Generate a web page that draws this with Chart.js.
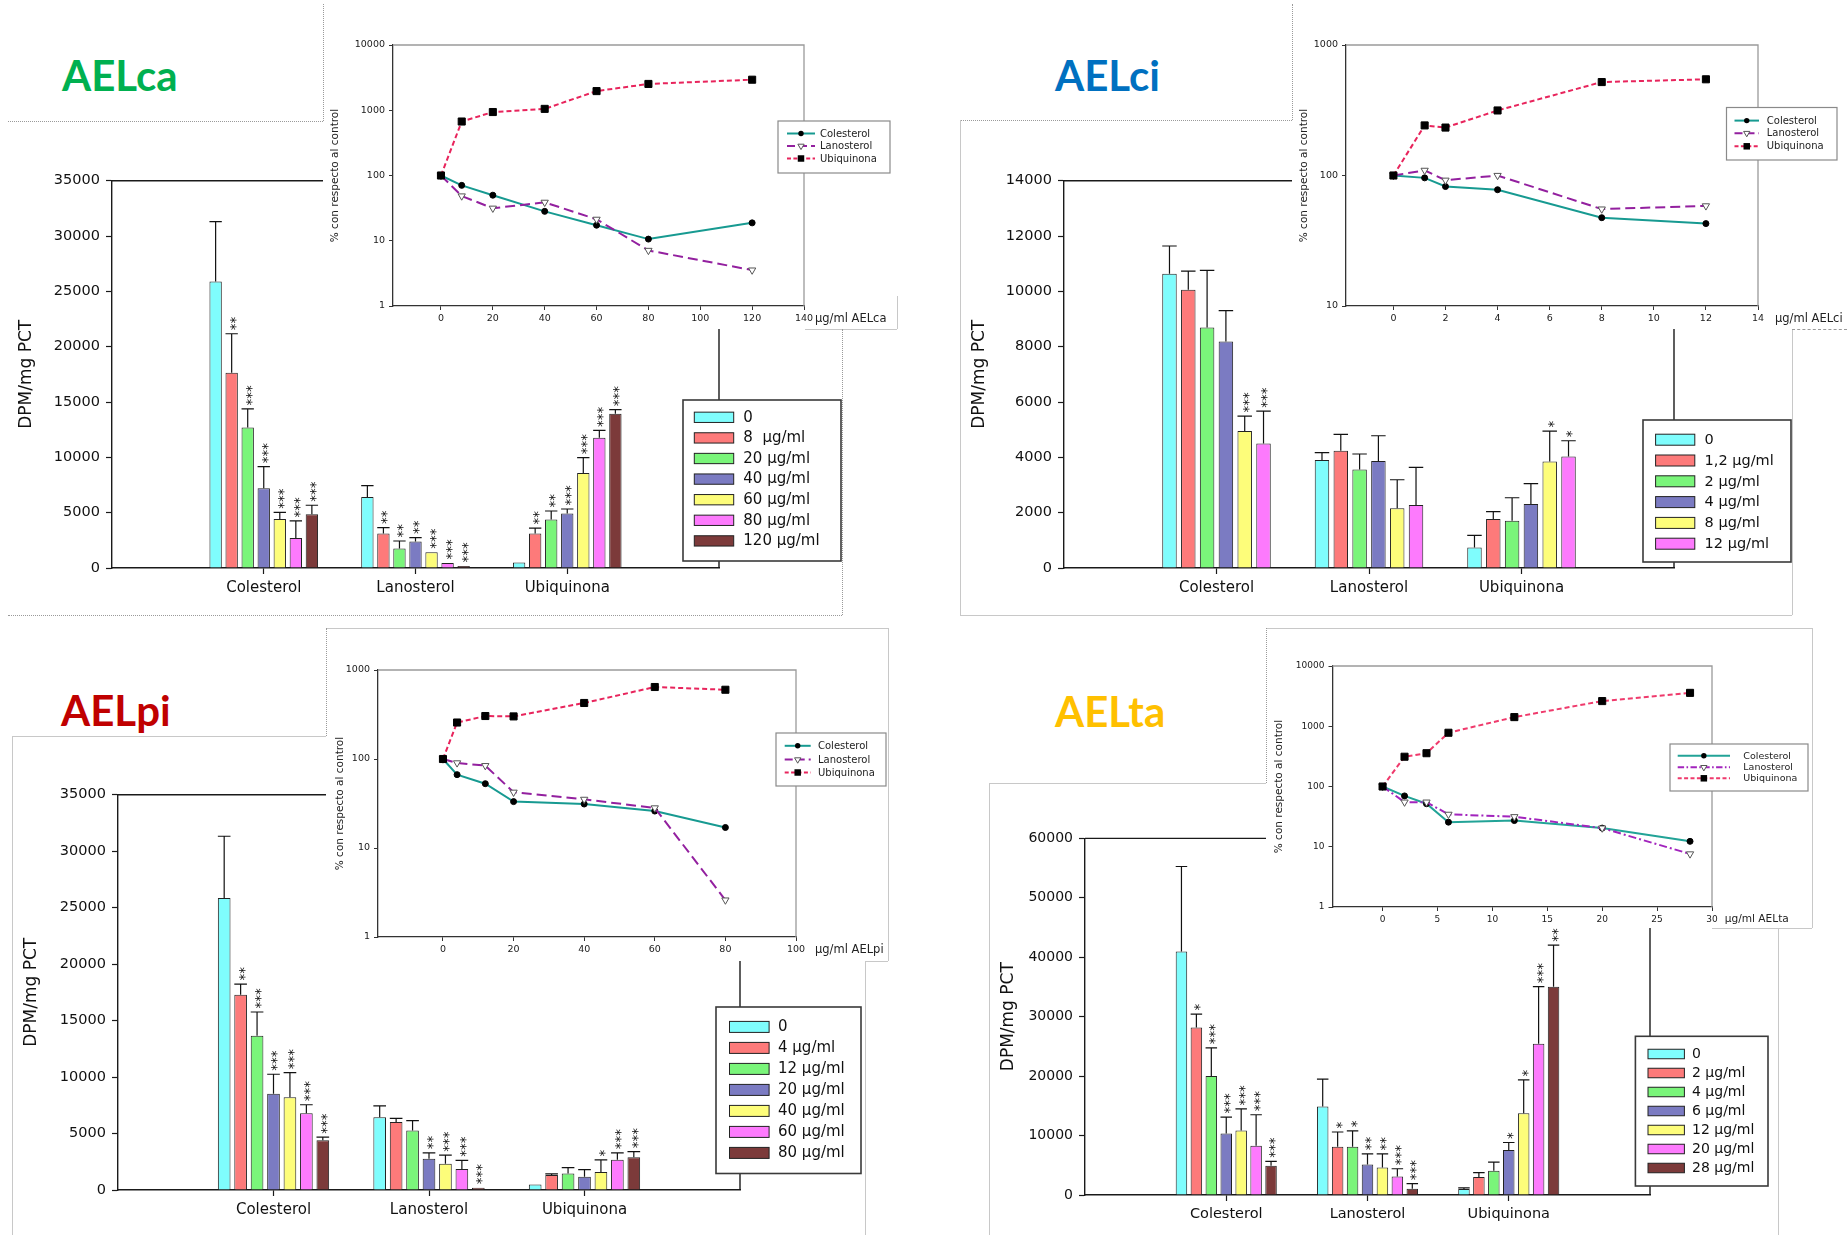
<!DOCTYPE html>
<html lang="es">
<head>
<meta charset="utf-8">
<title>Síntesis de colesterol, lanosterol y ubiquinona</title>
<script src="https://cdn.jsdelivr.net/npm/chart.js@4.4.1/dist/chart.umd.min.js"></script>
<style>
  html, body { margin: 0; padding: 0; background: #fff; }
  #page { position: relative; width: 1847px; height: 1235px; overflow: hidden; background: #fff; }
  #page canvas { position: absolute; }
  .panel-title { position: absolute; font-family: Lato, 'DejaVu Sans', sans-serif; font-weight: 700; font-size: 42px; line-height: 42px; white-space: nowrap; z-index: 6; }
  .inset-bg { position: absolute; background: #fff; z-index: 2; }
  .rule { position: absolute; z-index: 5; }
</style>
</head>
<body>
<div id="page"></div>
<script>
const FONT = "'DejaVu Sans', 'Liberation Sans', Arial, sans-serif";

// ---------- shared labels ----------
const categories = ['Colesterol', 'Lanosterol', 'Ubiquinona'];
const lineSeries = ['Colesterol', 'Lanosterol', 'Ubiquinona'];
const yAxisTitle = 'DPM/mg PCT';
const insetAxisTitle = '% con respecto al control';

// ---------- AELca ----------
const caDoses = ['0', '8  µg/ml', '20 µg/ml', '40 µg/ml', '60 µg/ml', '80 µg/ml', '120 µg/ml'];
const caColesterol    = [25900, 17650, 12700, 7200, 4420, 2710, 4850];
const caColesterolSD  = [5400, 3520, 1680, 1960, 610, 1540, 820];
const caColesterolSig = ['', '**', '***', '***', '***', '***', '***'];
const caLanosterol    = [6420, 3120, 1760, 2390, 1430, 460, 190];
const caLanosterolSD  = [1020, 530, 680, 360, 0, 0, 0];
const caLanosterolSig = ['', '**', '**', '**', '***', '***', '***'];
const caUbiquinona    = [500, 3110, 4380, 4920, 8580, 11770, 13950];
const caUbiquinonaSD  = [0, 500, 770, 410, 1390, 660, 360];
const caUbiquinonaSig = ['', '**', '**', '***', '***', '***', '***'];
const caYTicks = [0, 5000, 10000, 15000, 20000, 25000, 30000, 35000];
const caConc = [0, 8, 20, 40, 60, 80, 120];
const caPctColesterol = [100, 70.6, 49.9, 28.2, 17.3, 10.6, 18.8];
const caPctLanosterol = [100, 48.5, 31.5, 38.8, 21.3, 7.1, 3.55];
const caPctUbiquinona = [100, 672, 939, 1050, 1966, 2531, 2939];
const caConcTicks = [0, 20, 40, 60, 80, 100, 120, 140];
const caPctTicks = [1, 10, 100, 1000, 10000];

// ---------- AELci ----------
const ciDoses = ['0', '1,2 µg/ml', '2 µg/ml', '4 µg/ml', '8 µg/ml', '12 µg/ml'];
const ciColesterol    = [10640, 10060, 8690, 8190, 4950, 4500];
const ciColesterolSD  = [1000, 670, 2070, 1110, 540, 1170];
const ciColesterolSig = ['', '', '', '', '***', '***'];
const ciLanosterol    = [3900, 4240, 3560, 3870, 2160, 2280];
const ciLanosterolSD  = [270, 590, 560, 910, 1030, 1360];
const ciLanosterolSig = ['', '', '', '', '', ''];
const ciUbiquinona    = [740, 1770, 1710, 2310, 3850, 4030];
const ciUbiquinonaSD  = [440, 270, 830, 740, 1100, 570];
const ciUbiquinonaSig = ['', '', '', '', '*', '*'];
const ciYTicks = [0, 2000, 4000, 6000, 8000, 10000, 12000, 14000];
const ciConc = [0, 1.2, 2, 4, 8, 12];
const ciPctColesterol = [100, 95.9, 82.3, 77.8, 47.5, 42.8];
const ciPctLanosterol = [100, 109.5, 92, 100, 55.3, 58.5];
const ciPctUbiquinona = [100, 242, 233, 315, 520, 546];
const ciConcTicks = [0, 2, 4, 6, 8, 10, 12, 14];
const ciPctTicks = [10, 100, 1000];

// ---------- AELpi ----------
const piDoses = ['0', '4 µg/ml', '12 µg/ml', '20 µg/ml', '40 µg/ml', '60 µg/ml', '80 µg/ml'];
const piColesterol    = [25850, 17290, 13650, 8520, 8210, 6790, 4400];
const piColesterolSD  = [5470, 940, 2110, 1730, 2180, 760, 280];
const piColesterolSig = ['', '**', '***', '***', '***', '***', '***'];
const piLanosterol    = [6450, 6030, 5270, 2770, 2320, 1870, 210];
const piLanosterolSD  = [1000, 310, 870, 520, 760, 760, 0];
const piLanosterolSig = ['', '', '', '**', '***', '***', '***'];
const piUbiquinona    = [490, 1320, 1460, 1180, 1590, 2670, 2910];
const piUbiquinonaSD  = [0, 100, 520, 620, 1070, 620, 480];
const piUbiquinonaSig = ['', '', '', '', '*', '***', '***'];
const piYTicks = [0, 5000, 10000, 15000, 20000, 25000, 30000, 35000];
const piConc = [0, 4, 12, 20, 40, 60, 80];
const piPctColesterol = [100, 66.7, 52.8, 33.2, 31.2, 26.0, 17.0];
const piPctLanosterol = [100, 90.4, 84.2, 42.3, 35.2, 28.2, 2.6];
const piPctUbiquinona = [100, 257, 304, 301, 426, 644, 600];
const piConcTicks = [0, 20, 40, 60, 80, 100];
const piPctTicks = [1, 10, 100, 1000];

// ---------- AELta ----------
const taDoses = ['0', '2 µg/ml', '4 µg/ml', '6 µg/ml', '12 µg/ml', '20 µg/ml', '28 µg/ml'];
const taColesterol    = [40970, 28200, 20030, 10340, 10870, 8300, 4940];
const taColesterolSD  = [14300, 2240, 4740, 2770, 3620, 5200, 720];
const taColesterolSig = ['', '*', '***', '***', '***', '***', '***'];
const taLanosterol    = [14890, 8100, 8100, 5140, 4610, 3100, 1050];
const taLanosterolSD  = [4610, 2500, 2700, 1780, 2300, 1320, 860];
const taLanosterolSig = ['', '*', '*', '**', '**', '***', '***'];
const taUbiquinona    = [990, 3030, 4080, 7580, 13770, 25430, 35050];
const taUbiquinonaSD  = [200, 720, 1450, 1250, 5600, 9620, 6980];
const taUbiquinonaSig = ['', '', '', '*', '*', '***', '***'];
const taYTicks = [0, 10000, 20000, 30000, 40000, 50000, 60000];
const taConc = [0, 2, 4, 6, 12, 20, 28];
const taPctColesterol = [100, 69.8, 51.8, 25.6, 27.2, 20.4, 12.3];
const taPctLanosterol = [100, 55, 55, 34.5, 31.5, 20.4, 7.6];
const taPctUbiquinona = [100, 312, 357, 780, 1418, 2617, 3584];
const taConcTicks = [0, 5, 10, 15, 20, 25, 30];
const taPctTicks = [1, 10, 100, 1000, 10000];

// ---------- styles ----------
const doseColors = ['#7ffdfd', '#fd7a7a', '#7af57a', '#7b7bc2', '#fdfd7a', '#fd7afd', '#7c3a3a'];
const lineStyles = [
  { color: '#179a91', dash: [], point: 'circle' },
  { color: '#93209f', dash: [10, 5], point: 'triangle' },
  { color: '#e8245c', dash: [5, 3], point: 'square' }
];

const page = document.getElementById('page');

function makeCanvas(left, top, w, h, z) {
  const c = document.createElement('canvas');
  w = Math.round(w); h = Math.round(h);
  c.width = w; c.height = h;
  Object.assign(c.style, { left: left + 'px', top: top + 'px', width: w + 'px', height: h + 'px', zIndex: z });
  page.appendChild(c);
  return c;
}

function rule(x1, y1, x2, y2, style, color) {
  const d = document.createElement('div');
  d.className = 'rule';
  if (y1 === y2) {
    Object.assign(d.style, { left: x1 + 'px', top: y1 + 'px', width: (x2 - x1) + 'px', height: '0px', borderTop: `1px ${style} ${color}` });
  } else {
    Object.assign(d.style, { left: x1 + 'px', top: y1 + 'px', width: '0px', height: (y2 - y1) + 'px', borderLeft: `1px ${style} ${color}` });
  }
  page.appendChild(d);
}

function whiteBox(x1, y1, x2, y2) {
  const d = document.createElement('div');
  d.className = 'inset-bg';
  Object.assign(d.style, { left: x1 + 'px', top: y1 + 'px', width: (x2 - x1) + 'px', height: (y2 - y1) + 'px' });
  page.appendChild(d);
}

function panelTitle(text, color, x, baseline) {
  const d = document.createElement('div');
  d.className = 'panel-title';
  d.textContent = text;
  // Lato: baseline sits 0.887em below the top of a 1em line box
  Object.assign(d.style, { left: x + 'px', top: (baseline - 0.887 * 42) + 'px', color });
  page.appendChild(d);
}

function drawMarker(ctx, kind, x, y, scale) {
  ctx.save();
  if (kind === 'circle') {
    ctx.fillStyle = '#000';
    ctx.beginPath(); ctx.arc(x, y, 3 * scale, 0, Math.PI * 2); ctx.fill();
  } else if (kind === 'triangle') {
    const r = 4 * scale;
    ctx.fillStyle = '#fff'; ctx.strokeStyle = '#555'; ctx.lineWidth = 1;
    ctx.beginPath();
    ctx.moveTo(x, y + r); ctx.lineTo(x - r * 0.87, y - r * 0.5); ctx.lineTo(x + r * 0.87, y - r * 0.5);
    ctx.closePath(); ctx.fill(); ctx.stroke();
  } else {
    const s = 3.6 * scale;
    ctx.fillStyle = '#000';
    ctx.fillRect(x - s, y - s, 2 * s, 2 * s);
  }
  ctx.restore();
}

// ---------- bar chart with error bars, significance marks and boxed legend ----------
function buildBarChart(p) {
  const [L, T, R, B] = p.plot;
  const left = Math.round(L - p.yW);
  const pt = 14, xH = 44;
  const top = T - pt;
  const yW = L - left;
  const pr = Math.ceil(p.legend.box[2] - R + 6);
  const w = R - left + pr, h = B - top + xH;
  const cv = makeCanvas(left, top, w, h, 1);
  const labels = ['', ...categories, ''];

  const datasets = p.doses.map((dose, i) => ({
    label: dose,
    data: [null, ...p.means.map(a => a[i]), null],
    errors: [0, ...p.sds.map(a => a[i]), 0],
    stars: ['', ...p.sigs.map(a => a[i]), ''],
    backgroundColor: doseColors[i],
    borderColor: '#222',
    borderWidth: 1,
    categoryPercentage: 0.74,
    barPercentage: 0.77
  }));

  const frame = {
    id: 'frame',
    beforeDatasetsDraw(chart) {
      const { ctx, chartArea: a } = chart;
      ctx.save();
      ctx.strokeStyle = '#1a1a1a'; ctx.lineWidth = 1.4;
      ctx.beginPath();
      ctx.moveTo(a.left, a.top); ctx.lineTo(a.right, a.top); ctx.lineTo(a.right, a.bottom);
      ctx.stroke();
      ctx.restore();
    }
  };

  const errorBars = {
    id: 'errorBars',
    afterDatasetsDraw(chart) {
      const { ctx } = chart;
      const ys = chart.scales.y;
      const fs = 13.5;
      chart.data.datasets.forEach((ds, i) => {
        chart.getDatasetMeta(i).data.forEach((bar, j) => {
          const v = ds.data[j];
          if (v == null) return;
          const e = ds.errors[j] || 0;
          const yTop = ys.getPixelForValue(v + e);
          ctx.save();
          ctx.strokeStyle = '#111'; ctx.lineWidth = 1.2;
          if (e > 0) {
            ctx.beginPath();
            ctx.moveTo(bar.x, bar.y); ctx.lineTo(bar.x, yTop);
            ctx.moveTo(bar.x - bar.width / 2, yTop); ctx.lineTo(bar.x + bar.width / 2, yTop);
            ctx.stroke();
          }
          const s = ds.stars[j];
          if (s) {
            ctx.translate(bar.x, yTop - 3.5);
            ctx.rotate(-Math.PI / 2);
            ctx.font = `${fs}px ${FONT}`;
            ctx.fillStyle = '#111';
            ctx.textAlign = 'left'; ctx.textBaseline = 'alphabetic';
            ctx.fillText(s, 0, 0.59 * fs);
          }
          ctx.restore();
        });
      });
    }
  };

  const lg = p.legend;
  const boxLegend = {
    id: 'boxLegend',
    afterDraw(chart) {
      const { ctx } = chart;
      const ox = left, oy = top;
      const [bx1, by1, bx2, by2] = lg.box;
      ctx.save();
      ctx.fillStyle = '#fff';
      ctx.fillRect(bx1 - ox, by1 - oy, bx2 - bx1, by2 - by1);
      ctx.strokeStyle = '#3a3a3a'; ctx.lineWidth = 1.6;
      ctx.strokeRect(bx1 - ox, by1 - oy, bx2 - bx1, by2 - by1);
      ctx.font = `${lg.fs}px ${FONT}`;
      ctx.textBaseline = 'middle'; ctx.textAlign = 'left';
      chart.data.datasets.forEach((ds, i) => {
        const cy = lg.first + i * lg.pitch - oy;
        ctx.fillStyle = ds.backgroundColor;
        ctx.fillRect(lg.sx - ox, cy - lg.sh / 2, lg.sw, lg.sh);
        ctx.strokeStyle = '#222'; ctx.lineWidth = 1;
        ctx.strokeRect(lg.sx - ox, cy - lg.sh / 2, lg.sw, lg.sh);
        ctx.fillStyle = '#111';
        ctx.fillText(ds.label, lg.tx - ox, cy + 0.5);
      });
      ctx.restore();
    }
  };

  new Chart(cv, {
    type: 'bar',
    data: { labels, datasets },
    options: {
      responsive: false, animation: false, devicePixelRatio: 1, events: [],
      layout: { padding: { left: 0, top: pt, right: pr, bottom: 0 } },
      plugins: { legend: { display: false }, tooltip: { enabled: false } },
      scales: {
        x: {
          type: 'category', offset: false,
          grid: {
            offset: false, drawOnChartArea: false, drawTicks: true, tickLength: 6, tickWidth: 1.2,
            tickColor: c => (c.tick && c.tick.label) ? '#1a1a1a' : 'rgba(0,0,0,0)'
          },
          border: { display: true, color: '#1a1a1a', width: 1.4 },
          ticks: { font: { family: FONT, size: p.catSize }, color: '#111', padding: 5, maxRotation: 0, autoSkip: false },
          afterFit: s => { s.height = xH; }
        },
        y: {
          min: 0, max: p.yTicks[p.yTicks.length - 1],
          afterBuildTicks: s => { s.ticks = p.yTicks.map(v => ({ value: v })); },
          afterFit: s => { s.width = yW; },
          grid: { drawOnChartArea: false, tickLength: 6, tickWidth: 1.2, tickColor: '#1a1a1a' },
          border: { color: '#1a1a1a', width: 1.4 },
          ticks: { font: { family: FONT, size: p.tickSize }, color: '#111', padding: 6, callback: v => String(v) },
          title: { display: true, text: yAxisTitle, font: { family: FONT, size: 17 }, color: '#111', padding: 0 }
        }
      }
    },
    plugins: [frame, errorBars, boxLegend]
  });
}

// ---------- log-scale inset with the % of control ----------
function buildInset(p) {
  const [L, T, R, B] = p.plot;
  const left = Math.round(L - p.yW);
  const pt = 10, xH = 26;
  const top = T - pt;
  const yW = L - left;
  const w = R - left + p.pr, h = B - top + xH;
  const cv = makeCanvas(left, top, w, h, 3);
  const styles = p.styles || lineStyles;
  const pointStyle = { circle: 'circle', triangle: 'triangle', square: 'rect' };
  const order = [2, 1, 0];

  const datasets = lineSeries.map((name, k) => ({
    label: name,
    data: p.conc.map((x, i) => ({ x, y: p.pct[k][i] })),
    borderColor: styles[k].color,
    borderWidth: 2,
    borderDash: styles[k].dash,
    pointStyle: pointStyle[styles[k].point],
    pointRotation: styles[k].point === 'triangle' ? 180 : 0,
    pointRadius: styles[k].point === 'circle' ? 3 : (styles[k].point === 'triangle' ? 4.2 : 5),
    pointBackgroundColor: styles[k].point === 'triangle' ? '#fff' : '#000',
    pointBorderColor: styles[k].point === 'triangle' ? '#555' : '#000',
    pointBorderWidth: 1,
    tension: 0,
    order: order[k]
  }));

  const frame = {
    id: 'insetFrame',
    beforeDatasetsDraw(chart) {
      const { ctx, chartArea: a } = chart;
      ctx.save();
      ctx.strokeStyle = '#9a9a9a'; ctx.lineWidth = 1.3;
      ctx.beginPath();
      ctx.moveTo(a.left, a.top); ctx.lineTo(a.right, a.top); ctx.lineTo(a.right, a.bottom);
      ctx.stroke();
      ctx.restore();
    }
  };

  const lg = p.legend;
  const legendAndUnit = {
    id: 'legendAndUnit',
    afterDraw(chart) {
      const { ctx, chartArea: a } = chart;
      ctx.save();
      // unit label after the last concentration tick
      ctx.font = `${p.unitSize}px ${FONT}`;
      ctx.fillStyle = '#222';
      ctx.textAlign = 'left'; ctx.textBaseline = 'middle';
      ctx.fillText(p.unit, a.right + p.unitGap, a.bottom + 7 + p.tickSize * 0.6);
      // legend box
      const [bx1, by1, bx2, by2] = lg.box;
      ctx.fillStyle = '#fff';
      ctx.fillRect(bx1 - left, by1 - top, bx2 - bx1, by2 - by1);
      ctx.strokeStyle = '#8a8a8a'; ctx.lineWidth = 1.2;
      ctx.strokeRect(bx1 - left, by1 - top, bx2 - bx1, by2 - by1);
      ctx.font = `${lg.fs}px ${FONT}`;
      lineSeries.forEach((name, k) => {
        const cy = lg.rows[k] - top;
        ctx.strokeStyle = styles[k].color; ctx.lineWidth = 2;
        ctx.setLineDash(styles[k].dash.map(d => d * 0.8));
        ctx.beginPath(); ctx.moveTo(lg.line[0] - left, cy); ctx.lineTo(lg.line[1] - left, cy); ctx.stroke();
        ctx.setLineDash([]);
        drawMarker(ctx, styles[k].point, (lg.line[0] + lg.line[1]) / 2 - left, cy, 0.9);
        ctx.fillStyle = '#222';
        ctx.fillText(name, lg.tx - left, cy + 0.5);
      });
      ctx.restore();
    }
  };

  new Chart(cv, {
    type: 'line',
    data: { datasets },
    options: {
      responsive: false, animation: false, devicePixelRatio: 1, events: [],
      layout: { padding: { left: 0, top: pt, right: p.pr, bottom: 0 } },
      plugins: { legend: { display: false }, tooltip: { enabled: false } },
      scales: {
        x: {
          type: 'linear', min: p.xMin, max: p.xMax,
          afterBuildTicks: s => { s.ticks = p.xTicks.map(v => ({ value: v })); },
          afterFit: s => { s.height = xH; },
          grid: { drawOnChartArea: false, tickLength: 4, tickWidth: 1, tickColor: '#333' },
          border: { color: '#333', width: 1.3 },
          ticks: { font: { family: FONT, size: p.tickSize }, color: '#1a1a1a', padding: 3, maxRotation: 0, autoSkip: false, callback: v => String(v) }
        },
        y: {
          type: 'logarithmic', min: p.yTicks[0], max: p.yTicks[p.yTicks.length - 1],
          afterBuildTicks: s => { s.ticks = p.yTicks.map(v => ({ value: v })); },
          afterFit: s => { s.width = yW; },
          grid: { drawOnChartArea: false, tickLength: 4, tickWidth: 1, tickColor: '#333' },
          border: { color: '#333', width: 1.3 },
          ticks: { font: { family: FONT, size: p.tickSize }, color: '#1a1a1a', padding: 4, autoSkip: false, callback: v => String(v) },
          title: { display: true, text: insetAxisTitle, font: { family: FONT, size: 10.5 }, color: '#222', padding: 0 }
        }
      }
    },
    plugins: [frame, legendAndUnit]
  });
}

// ================= AELca =================
panelTitle('AELca', '#00b050', 62, 91);
buildBarChart({
  plot: [112, 180, 719, 568], yW: 96, yTicks: caYTicks, tickSize: 14.5, catSize: 15,
  doses: caDoses,
  means: [caColesterol, caLanosterol, caUbiquinona],
  sds: [caColesterolSD, caLanosterolSD, caUbiquinonaSD],
  sigs: [caColesterolSig, caLanosterolSig, caUbiquinonaSig],
  legend: { box: [683, 400, 841, 561], first: 417.3, pitch: 20.6, sx: 694.3, sw: 39.4, sh: 10.3, tx: 743.3, fs: 15 }
});
whiteBox(323, 0, 897, 329);
buildInset({
  plot: [393, 45, 804, 306], yW: 64, pr: 93,
  xMin: -18.5, xMax: 140, xTicks: caConcTicks, yTicks: caPctTicks,
  conc: caConc, pct: [caPctColesterol, caPctLanosterol, caPctUbiquinona],
  tickSize: 9.5, unit: 'µg/ml AELca', unitSize: 11.5, unitGap: 11,
  legend: { box: [778, 121, 890, 173], rows: [133.5, 146, 158.5], line: [787, 815], tx: 820, fs: 10 }
});
rule(323, 4, 323, 121, 'dotted', '#9a9a9a');
rule(8, 121, 323, 121, 'dotted', '#9a9a9a');
rule(805, 329, 897, 329, 'solid', '#c8c8c8');
rule(897, 296, 897, 329, 'solid', '#c8c8c8');
rule(8, 615, 842, 615, 'dotted', '#9a9a9a');
rule(842, 329, 842, 615, 'dotted', '#9a9a9a');

// ================= AELci =================
panelTitle('AELci', '#0070c0', 1055, 91);
buildBarChart({
  plot: [1064, 180, 1674, 568], yW: 95, yTicks: ciYTicks, tickSize: 14.5, catSize: 15,
  doses: ciDoses,
  means: [ciColesterol, ciLanosterol, ciUbiquinona],
  sds: [ciColesterolSD, ciLanosterolSD, ciUbiquinonaSD],
  sigs: [ciColesterolSig, ciLanosterolSig, ciUbiquinonaSig],
  legend: { box: [1643, 420, 1791, 562], first: 439.7, pitch: 20.8, sx: 1655.6, sw: 39.2, sh: 11, tx: 1704.6, fs: 14.5 }
});
whiteBox(1292, 0, 1847, 329);
buildInset({
  plot: [1346, 45, 1758, 306], yW: 47.6, pr: 89,
  xMin: -1.82, xMax: 14, xTicks: ciConcTicks, yTicks: ciPctTicks,
  conc: ciConc, pct: [ciPctColesterol, ciPctLanosterol, ciPctUbiquinona],
  tickSize: 9.5, unit: 'µg/ml AELci', unitSize: 11.5, unitGap: 17,
  legend: { box: [1726.5, 107.5, 1837, 160], rows: [120.6, 133.2, 146.3], line: [1734.5, 1759], tx: 1766.8, fs: 10 }
});
rule(1292, 4, 1292, 120, 'dotted', '#9a9a9a');
rule(960, 120, 1292, 120, 'dotted', '#9a9a9a');
rule(960, 120, 960, 615, 'solid', '#c8c8c8');
rule(960, 615, 1792, 615, 'solid', '#c8c8c8');
rule(1792, 329, 1792, 615, 'solid', '#c8c8c8');
rule(1792, 329, 1847, 329, 'dashed', '#9a9a9a');

// ================= AELpi =================
panelTitle('AELpi', '#c00000', 61, 726);
buildBarChart({
  plot: [118, 794, 740, 1190], yW: 97.5, yTicks: piYTicks, tickSize: 14.5, catSize: 15,
  doses: piDoses,
  means: [piColesterol, piLanosterol, piUbiquinona],
  sds: [piColesterolSD, piLanosterolSD, piUbiquinonaSD],
  sigs: [piColesterolSig, piLanosterolSig, piUbiquinonaSig],
  legend: { box: [716, 1007, 861, 1173.5], first: 1026.9, pitch: 21, sx: 729.5, sw: 39.6, sh: 11, tx: 778, fs: 15 }
});
whiteBox(326, 628, 888, 961);
buildInset({
  plot: [378, 670, 796, 937], yW: 44, pr: 96,
  xMin: -18.4, xMax: 100, xTicks: piConcTicks, yTicks: piPctTicks,
  conc: piConc, pct: [piPctColesterol, piPctLanosterol, piPctUbiquinona],
  tickSize: 9.5, unit: 'µg/ml AELpi', unitSize: 11.5, unitGap: 19,
  legend: { box: [776, 733, 886, 786], rows: [745.8, 759.6, 772.5], line: [784.7, 810.7], tx: 818, fs: 10 }
});
rule(326, 628, 888, 628, 'solid', '#c8c8c8');
rule(888, 628, 888, 961, 'solid', '#c8c8c8');
rule(865, 961, 888, 961, 'solid', '#c8c8c8');
rule(326, 628, 326, 736, 'dotted', '#9a9a9a');
rule(12, 736, 326, 736, 'solid', '#c8c8c8');
rule(12, 736, 12, 1235, 'solid', '#c8c8c8');
rule(865, 961, 865, 1235, 'solid', '#c8c8c8');

// ================= AELta =================
panelTitle('AELta', '#ffc000', 1055, 727);
buildBarChart({
  plot: [1085, 838, 1650, 1195], yW: 87, yTicks: taYTicks, tickSize: 14, catSize: 14.5,
  doses: taDoses,
  means: [taColesterol, taLanosterol, taUbiquinona],
  sds: [taColesterolSD, taLanosterolSD, taUbiquinonaSD],
  sigs: [taColesterolSig, taLanosterolSig, taUbiquinonaSig],
  legend: { box: [1635.4, 1036.3, 1768, 1186], first: 1054, pitch: 19, sx: 1648, sw: 36.4, sh: 9.5, tx: 1692, fs: 14 }
});
whiteBox(1266, 628, 1812, 928);
buildInset({
  plot: [1332.5, 666, 1712, 907], yW: 60, pr: 100,
  xMin: -4.56, xMax: 30, xTicks: taConcTicks, yTicks: taPctTicks,
  conc: taConc, pct: [taPctColesterol, taPctLanosterol, taPctUbiquinona],
  tickSize: 9, unit: 'µg/ml AELta', unitSize: 10.6, unitGap: 12.7,
  styles: [
    { color: '#22a397', dash: [], point: 'circle' },
    { color: '#a224bd', dash: [8, 3, 2, 3], point: 'triangle' },
    { color: '#ef3a6c', dash: [5, 3], point: 'square' }
  ],
  legend: { box: [1670, 744, 1808, 791], rows: [755.7, 767.3, 778.3], line: [1677.7, 1730], tx: 1743.3, fs: 9.5 }
});
rule(1266, 628, 1812, 628, 'solid', '#c8c8c8');
rule(1812, 628, 1812, 928, 'solid', '#c8c8c8');
rule(1712, 928, 1812, 928, 'solid', '#c8c8c8');
rule(1266, 628, 1266, 783, 'dotted', '#9a9a9a');
rule(989, 783, 1266, 783, 'solid', '#c8c8c8');
rule(989, 783, 989, 1235, 'solid', '#c8c8c8');
rule(1778, 928, 1778, 1235, 'solid', '#c8c8c8');
</script>
</body>
</html>
